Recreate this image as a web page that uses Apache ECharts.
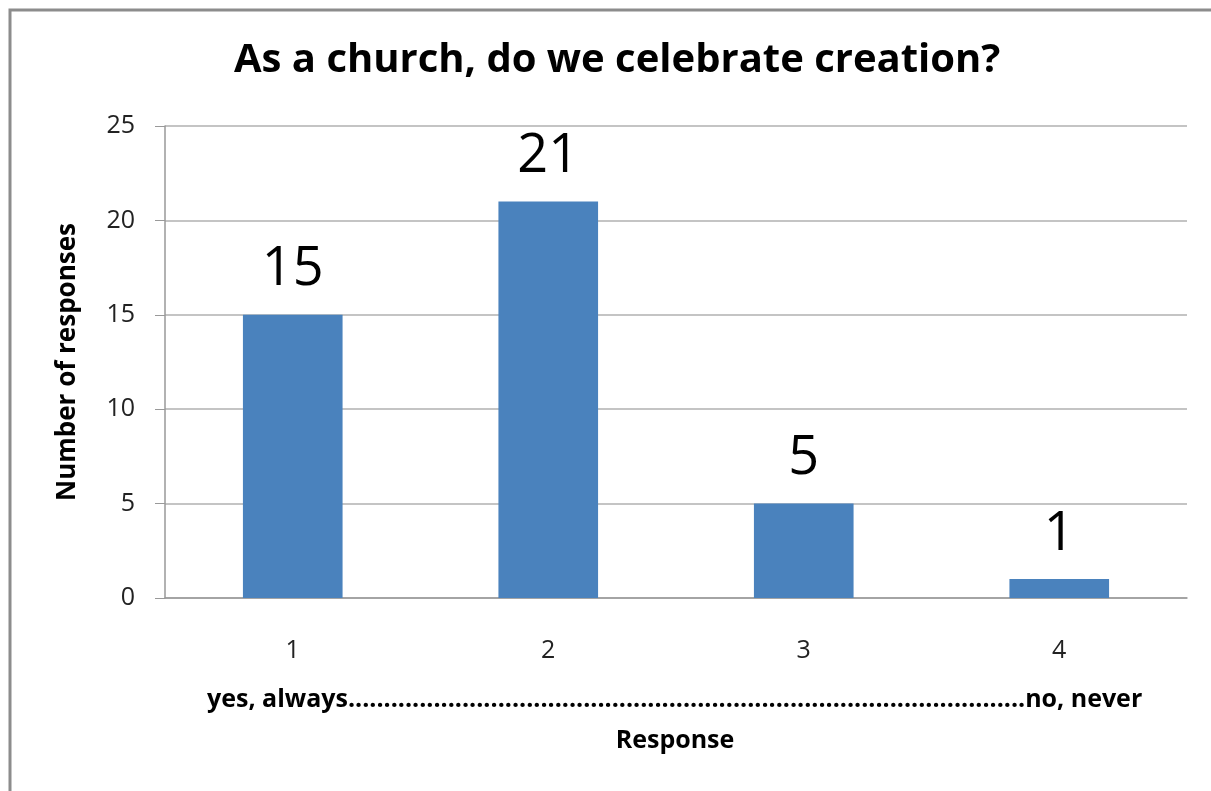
<!DOCTYPE html>
<html><head><meta charset="utf-8">
<script src="https://cdn.jsdelivr.net/npm/echarts@6/dist/echarts.min.js"></script>
<style>html,body{margin:0;padding:0;background:#fff}#c{width:1211px;height:791px}</style>
</head><body><div id="c"></div>
<script>
const title = "As a church, do we celebrate creation?";
const categories = ["1", "2", "3", "4"];
const responses = [15, 21, 5, 1];
const yTicks = { min: 0, max: 25, interval: 5 };
const yName = "Number of responses";
const scaleText = "yes, always" + ".".repeat(95) + "no, never";
const xName = "Response";

const chart = echarts.init(document.getElementById('c'), null, { renderer: 'canvas' });
const F = "'Open Sans', 'Liberation Sans', sans-serif";
chart.setOption({
  animation: false,
  backgroundColor: '#fff',
  title: {
    text: title, left: 229, top: 36,
    textStyle: { fontFamily: F, fontSize: 40, fontWeight: 'bold', color: '#000' }
  },
  grid: { left: 165, right: 24, top: 126, bottom: 193 },
  xAxis: {
    type: 'category', data: categories,
    axisLine: { lineStyle: { color: '#999', width: 1.5 } },
    axisTick: { show: false },
    axisLabel: { margin: 40, fontFamily: F, fontSize: 25, color: '#222' }
  },
  yAxis: {
    type: 'value', min: yTicks.min, max: yTicks.max, interval: yTicks.interval,
    axisLine: { show: true, lineStyle: { color: '#999', width: 1.5 } },
    axisTick: { show: true, length: 10, lineStyle: { color: '#999' } },
    splitLine: { lineStyle: { color: '#b0b0b0', width: 1.5 } },
    axisLabel: { margin: 30, fontFamily: F, fontSize: 25, color: '#222' },
    name: yName, nameLocation: 'middle', nameGap: 84,
    nameTextStyle: { fontFamily: F, fontSize: 26, fontWeight: 'bold', color: '#000' }
  },
  series: [{
    type: 'bar', data: responses, barWidth: '39%',
    itemStyle: { color: '#4a82bd' },
    label: { show: true, position: 'top', distance: 18, fontFamily: F, fontSize: 54, color: '#000' }
  }],
  graphic: [
    { type: 'rect', shape: { x: 10, y: 10, width: 1230, height: 820 },
      style: { fill: null, stroke: '#8c8c8c', lineWidth: 3 }, silent: true },
    { type: 'text', x: 207, y: 700,
      style: { text: scaleText, textVerticalAlign: 'middle', fontFamily: F, fontSize: 25, fontWeight: 'bold', fill: '#000' } },
    { type: 'text', x: 675, y: 741,
      style: { text: xName, textAlign: 'center', textVerticalAlign: 'middle', fontFamily: F, fontSize: 25, fontWeight: 'bold', fill: '#000' } }
  ]
});
</script></body></html>
